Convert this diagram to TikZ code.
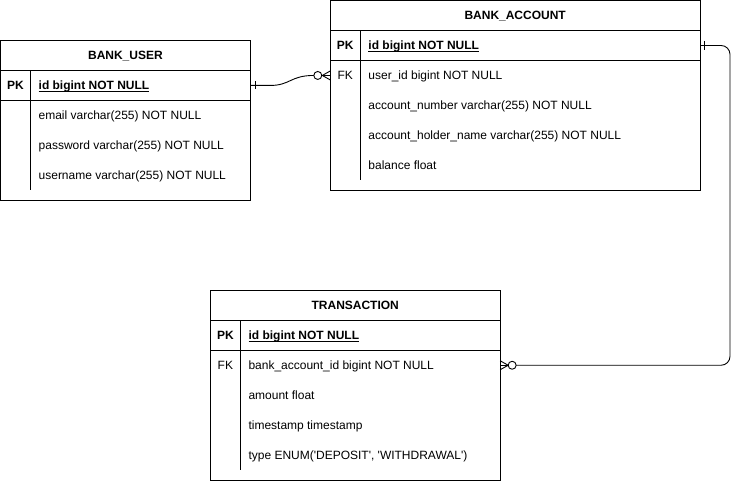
\documentclass[tikz,border=0pt]{standalone}
\usepackage{fontspec}
\setmainfont{Liberation Sans}
\newcommand\myul[1]{\setbox0\hbox{#1}\rlap{\rule[-2pt]{\wd0}{0.8pt}}\box0}
\begin{document}
\begin{tikzpicture}[x=1pt,y=-1pt,
  tbl/.style={draw, line width=0.9pt, inner sep=0pt},
  row/.style={inner sep=0pt},
  ln/.style={line width=0.9pt},
  txt/.style={anchor=base west, inner sep=0pt, font=\fontsize{12}{14}\selectfont},
  ttl/.style={anchor=base, inner sep=0pt, font=\fontsize{12}{14}\selectfont\bfseries},
  key/.style={anchor=base, inner sep=0pt, font=\fontsize{12}{14}\selectfont\bfseries},
  conn/.style={line width=0.9pt}]
\useasboundingbox (-0.5,-0.5) rectangle (740,481);

% ---------- BANK_USER ----------
\node[tbl, minimum width=250, minimum height=160] (user) at (125,120) {};
\node[ttl] (usert) at (125,59.5) {BANK\_USER};
\node[row, minimum width=250, minimum height=30] (userpk) at (125,85) {};
\draw[ln] (0,70) -- (250,70);
\draw[ln] (0,100) -- (250,100);
\draw[ln] (30,70) -- (30,190);
\node[key] (userpkl) at (15,89.5) {PK};
\node[txt] (userid) at (38,89.5) {\bfseries\myul{id bigint NOT NULL}};
\node[txt] (useremail) at (38,119.5) {email varchar(255) NOT NULL};
\node[txt] (userpw) at (38,149.5) {password varchar(255) NOT NULL};
\node[txt] (username) at (38,179.5) {username varchar(255) NOT NULL};

% ---------- BANK_ACCOUNT ----------
\node[tbl, minimum width=370, minimum height=190] (acc) at (515,95) {};
\node[ttl] (acct) at (515,19.5) {BANK\_ACCOUNT};
\node[row, minimum width=370, minimum height=30] (accpk) at (515,45) {};
\node[row, minimum width=370, minimum height=30] (accfk) at (515,75) {};
\draw[ln] (330,30) -- (700,30);
\draw[ln] (330,60) -- (700,60);
\draw[ln] (360,30) -- (360,180);
\node[key] (accpkl) at (345,49.5) {PK};
\node[txt] (accid) at (368,49.5) {\bfseries\myul{id bigint NOT NULL}};
\node[key] (accfkl) at (345,79.5) {\mdseries FK};
\node[txt] (accuid) at (368,79.5) {user\_id bigint NOT NULL};
\node[txt] (accnum) at (368,109.5) {account\_number varchar(255) NOT NULL};
\node[txt] (acchold) at (368,139.5) {account\_holder\_name varchar(255) NOT NULL};
\node[txt] (accbal) at (368,169.5) {balance float};

% ---------- TRANSACTION ----------
\node[tbl, minimum width=290, minimum height=190] (tr) at (355,385) {};
\node[ttl] (trt) at (355,309.5) {TRANSACTION};
\node[row, minimum width=290, minimum height=30] (trpk) at (355,335) {};
\node[row, minimum width=290, minimum height=30] (trfk) at (355,365) {};
\draw[ln] (210,320) -- (500,320);
\draw[ln] (210,350) -- (500,350);
\draw[ln] (240,320) -- (240,470);
\node[key] (trpkl) at (225,339.5) {PK};
\node[txt] (trid) at (248,339.5) {\bfseries\myul{id bigint NOT NULL}};
\node[key] (trfkl) at (225,369.5) {\mdseries FK};
\node[txt] (trbid) at (248,369.5) {bank\_account\_id bigint NOT NULL};
\node[txt] (tramt) at (248,399.5) {amount float};
\node[txt] (trts) at (248,429.5) {timestamp timestamp};
\node[txt] (trtype) at (248,459.5) {type ENUM(\textquotesingle DEPOSIT\textquotesingle, \textquotesingle WITHDRAWAL\textquotesingle)};

% ---------- connector BANK_USER -> BANK_ACCOUNT ----------
\coordinate (c1) at (313.5,75);
\draw[conn] (userpk.east) -- (270,85) .. controls (290,85) and (290,75) .. (c1);
\draw[conn] (255,81) -- (255,89);
\draw[conn, fill=white] (317.5,75) circle (4);
\draw[conn] (321.5,75) -- (accfk.west);
\draw[conn] (322,75) -- (330,70.5);
\draw[conn] (322,75) -- (330,79.5);

% ---------- connector BANK_ACCOUNT -> TRANSACTION ----------
\coordinate (c2) at (516,365);
\draw[conn, rounded corners=9] (accpk.east) -- (730,45) -- (730,365) -- (c2);
\draw[conn] (704,40.5) -- (704,49.5);
\draw[conn, fill=white] (512,365) circle (4);
\draw[conn] (508,365) -- (trfk.east);
\draw[conn] (508,365) -- (500,360.5);
\draw[conn] (508,365) -- (500,369.5);
\end{tikzpicture}
\end{document}
